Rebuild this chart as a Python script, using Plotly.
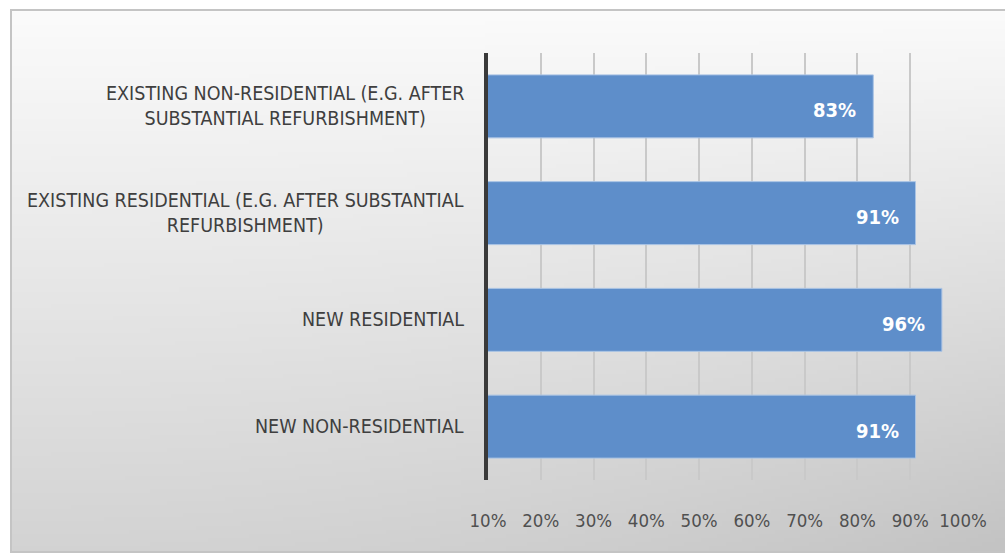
import base64
import struct
import zlib

import numpy as np
import plotly.graph_objects as go

# ---- data -------------------------------------------------------------
categories = [
    "NEW NON-RESIDENTIAL",
    "NEW RESIDENTIAL",
    "EXISTING RESIDENTIAL (E.G. AFTER SUBSTANTIAL<br>REFURBISHMENT)",
    "EXISTING NON-RESIDENTIAL (E.G. AFTER<br>SUBSTANTIAL REFURBISHMENT)",
]
values = [91, 96, 91, 83]  # percent
tick_values = [10, 20, 30, 40, 50, 60, 70, 80, 90, 100]
tick_labels = ["10%", "20%", "30%", "40%", "50%", "60%", "70%", "80%", "90%", "100%"]

# ---- geometry ---------------------------------------------------------
W, H = 1005, 553
ML, MR, MT, MB = 488, 42, 53, 73
PW, PH = W - ML - MR, H - MT - MB

FONT = "DejaVu Sans Condensed, Liberation Sans Narrow, sans-serif"


def px_to_paper_x(px):
    return (px - ML) / PW


def px_to_paper_y(py):
    return (H - MB - py) / PH


# ---- soft gray gradient backdrop as a small PNG -----------------------
def gradient_png(w=240, h=132):
    u = np.linspace(0, 1, w)[None, :]
    v = np.linspace(0, 1, h)[:, None]
    g = 251 - 40 * v - 16 * (u ** 2) * v
    g = np.clip(g, 0, 255).astype(np.uint8)
    raw = b"".join(b"\x00" + row.tobytes() for row in g)

    def chunk(tag, data):
        c = struct.pack(">I", len(data)) + tag + data
        return c + struct.pack(">I", zlib.crc32(tag + data) & 0xFFFFFFFF)

    png = b"\x89PNG\r\n\x1a\n"
    png += chunk(b"IHDR", struct.pack(">IIBBBBB", w, h, 8, 0, 0, 0, 0))
    png += chunk(b"IDAT", zlib.compress(raw, 9))
    png += chunk(b"IEND", b"")
    return "data:image/png;base64," + base64.b64encode(png).decode()


box_l, box_r, box_t, box_b = 11, 1005, 10, 552
bx0, bx1 = px_to_paper_x(box_l), px_to_paper_x(box_r)
by1, by0 = px_to_paper_y(box_t), px_to_paper_y(box_b)

# ---- figure -----------------------------------------------------------
keys = [c.replace("<br>", " ") for c in categories]

fig = go.Figure(
    go.Bar(
        x=[v / 100 for v in values],
        y=keys,
        orientation="h",
        width=0.59,
        marker=dict(color="#5E8ECA", line=dict(color="#A9C3E4", width=1)),
        hoverinfo="skip",
    )
)

annotations = []
# category labels, centred lines, right edge just left of the axis
for k, label in zip(keys, categories):
    annotations.append(
        dict(
            x=0, xref="paper", y=k, yref="y",
            text=label, showarrow=False,
            xanchor="right", yanchor="middle", align="center", xshift=-22,
            font=dict(family=FONT, size=19.5, color="#3F3F3F"),
        )
    )
# value labels inside the bar ends
for k, v in zip(keys, values):
    annotations.append(
        dict(
            x=v / 100, xref="x", y=k, yref="y",
            text=f"<b>{v}%</b>", showarrow=False,
            xanchor="right", yanchor="middle", xshift=-15, yshift=-4,
            font=dict(family=FONT, size=20, color="#FFFFFF"),
        )
    )

fig.update_layout(
    width=W,
    height=H,
    margin=dict(l=ML, r=MR, t=MT, b=MB, pad=0),
    paper_bgcolor="#FFFFFF",
    plot_bgcolor="rgba(0,0,0,0)",
    showlegend=False,
    annotations=annotations,
    images=[
        dict(
            source=gradient_png(),
            xref="paper", yref="paper",
            x=bx0, y=by1, sizex=bx1 - bx0, sizey=by1 - by0,
            xanchor="left", yanchor="top",
            sizing="stretch", layer="below",
        )
    ],
    shapes=[
        dict(
            type="rect", xref="paper", yref="paper",
            x0=bx0, x1=bx1 + 0.01, y0=by0, y1=by1,
            line=dict(color="#C4C4C4", width=2),
            fillcolor="rgba(0,0,0,0)", layer="below",
        )
    ],
)

fig.update_xaxes(
    range=[0.1, 1.0],
    tickvals=[t / 100 for t in tick_values],
    ticktext=tick_labels,
    showgrid=True,
    gridcolor="#C9C9C9",
    gridwidth=1.5,
    zeroline=False,
    showline=False,
    ticks="",
    ticklabelstandoff=27,
    tickfont=dict(family=FONT, size=18.5, color="#505050"),
)

fig.update_yaxes(
    categoryorder="array",
    categoryarray=keys,
    showticklabels=False,
    showgrid=False,
    zeroline=False,
    showline=True,
    linecolor="#3A3A3A",
    linewidth=3.5,
    ticks="",
)

fig.write_html("out.html")
